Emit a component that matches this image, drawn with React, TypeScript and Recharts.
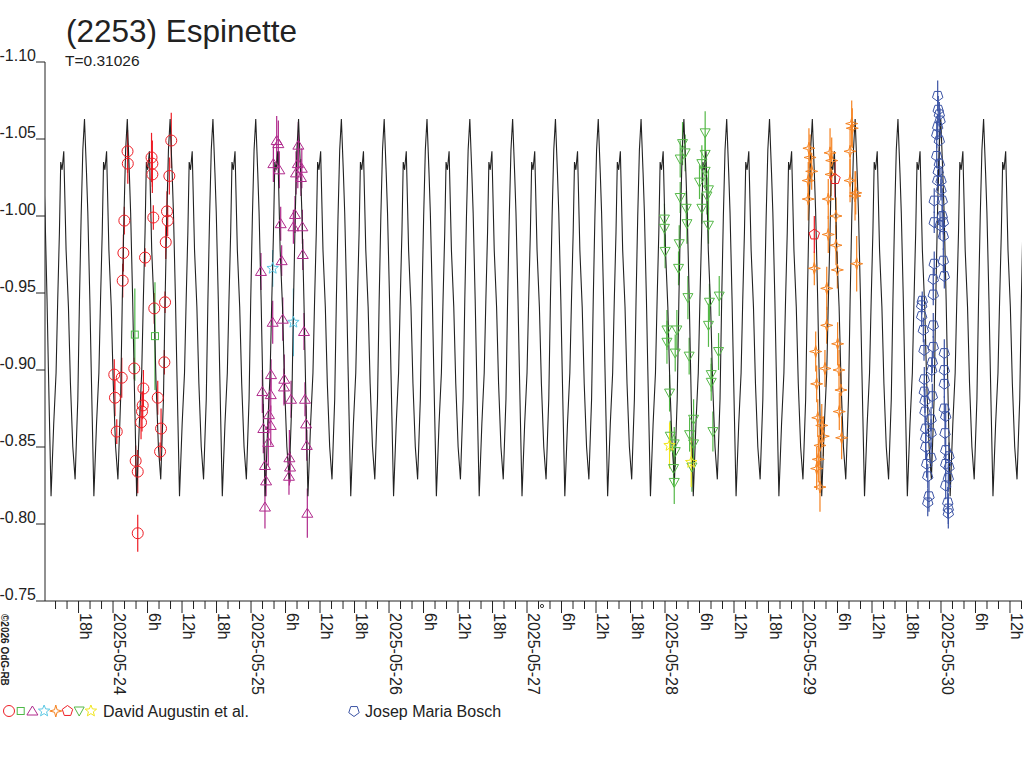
import React from 'react';
import { ComposedChart, Line, Scatter, XAxis, YAxis, ErrorBar } from 'recharts';

// synodic period (days) and time of a primary maximum (day of May 2025)
const PERIOD = 0.31026;
const EPOCH = 25.965;
const X_MIN = 23.507;
const X_MAX = 30.587;

// one rotation of the fitted lightcurve, phase vs magnitude
const PHASES = [0, 0.047, 0.078, 0.125, 0.156, 0.18, 0.219, 0.281, 0.336, 0.375, 0.414, 0.445, 0.477, 0.516, 0.57, 0.625, 0.672, 0.727, 0.781, 0.844, 0.883, 0.922, 0.961];
const PROFILE = [-1.063, -1.028, -1.002, -0.946, -0.902, -0.87, -0.818, -0.865, -0.898, -0.946, -0.989, -1.035, -1.03, -1.042, -0.978, -0.941, -0.891, -0.85, -0.829, -0.881, -0.946, -1.0, -1.043];

const Y_TICKS = [-1.1, -1.05, -1.0, -0.95, -0.9, -0.85, -0.8, -0.75];
// x ticks every 2 h, from 2025-05-23 14h to 2025-05-30 14h
const TICK_FIRST_H = 14;
const TICK_LAST_H = 182;
const TICK_STEP_H = 2;

// [day of May, magnitude, error]
const augustinCircles = [
  [24.009, -0.897, 0.01], [24.014, -0.882, 0.012], [24.027, -0.86, 0.008], [24.063, -0.895, 0.013],
  [24.07, -0.958, 0.011], [24.075, -0.976, 0.012], [24.082, -0.997, 0.009], [24.105, -1.042, 0.014],
  [24.107, -1.034, 0.013], [24.154, -0.901, 0.007], [24.164, -0.841, 0.01], [24.179, -0.834, 0.014],
  [24.179, -0.794, 0.012], [24.203, -0.866, 0.011], [24.21, -0.873, 0.013], [24.215, -0.877, 0.009],
  [24.22, -0.888, 0.012], [24.232, -0.973, 0.006], [24.279, -1.038, 0.016], [24.285, -1.034, 0.015],
  [24.285, -1.027, 0.012], [24.292, -0.999, 0.008], [24.299, -0.94, 0.01], [24.324, -0.882, 0.011],
  [24.341, -0.847, 0.006], [24.348, -0.862, 0.013], [24.372, -0.905, 0.008], [24.377, -0.944, 0.007],
  [24.382, -0.983, 0.011], [24.391, -1.003, 0.013], [24.396, -0.997, 0.01], [24.408, -1.026, 0.012],
  [24.422, -1.049, 0.018],
];
const augustinSquares = [[24.158, -0.923, 0.03], [24.304, -0.922, 0.035]];
const augustinTriangles = [
  [25.072, -0.964, 0.012], [25.082, -0.886, 0.014], [25.089, -0.862, 0.016], [25.101, -0.838, 0.012],
  [25.101, -0.811, 0.014], [25.109, -0.828, 0.01], [25.125, -0.853, 0.015], [25.13, -0.871, 0.012],
  [25.143, -0.884, 0.011], [25.143, -0.864, 0.013], [25.145, -0.897, 0.01], [25.157, -0.931, 0.014],
  [25.162, -1.034, 0.012], [25.186, -1.049, 0.016], [25.198, -1.047, 0.015], [25.205, -1.03, 0.012],
  [25.215, -0.995, 0.011], [25.222, -0.971, 0.01], [25.23, -0.933, 0.014], [25.239, -0.889, 0.012],
  [25.241, -0.894, 0.016], [25.275, -0.831, 0.012], [25.278, -0.843, 0.018], [25.283, -0.837, 0.01],
  [25.29, -0.881, 0.012], [25.307, -0.993, 0.011], [25.319, -1.001, 0.012], [25.326, -1.028, 0.014],
  [25.339, -1.034, 0.016], [25.343, -1.046, 0.015], [25.362, -1.025, 0.012], [25.368, -1.031, 0.013],
  [25.372, -0.993, 0.011], [25.375, -0.975, 0.01], [25.384, -0.925, 0.012], [25.391, -0.881, 0.011],
  [25.399, -0.865, 0.012], [25.404, -0.851, 0.01], [25.408, -0.807, 0.016],
];
const augustinStars = [[25.157, -0.966, 0.012], [25.307, -0.931, 0.022]];
const augustinDiamonds = [
  [29.038, -1.023, 0.012], [29.038, -1.011, 0.014], [29.043, -1.044, 0.013], [29.051, -1.038, 0.015],
  [29.063, -1.029, 0.012], [29.082, -0.966, 0.011], [29.092, -0.912, 0.013], [29.099, -0.891, 0.012],
  [29.099, -0.836, 0.014], [29.107, -0.869, 0.012], [29.111, -0.842, 0.015], [29.123, -0.851, 0.013],
  [29.123, -0.824, 0.016], [29.136, -0.864, 0.014], [29.147, -0.857, 0.013], [29.159, -0.901, 0.012],
  [29.172, -0.953, 0.014], [29.172, -0.929, 0.012], [29.183, -1.011, 0.013], [29.183, -0.988, 0.012],
  [29.196, -1.041, 0.016], [29.203, -1.027, 0.014], [29.208, -1.036, 0.015], [29.239, -1.0, 0.012],
  [29.239, -0.981, 0.013], [29.249, -0.965, 0.012], [29.251, -0.917, 0.014], [29.261, -0.9, 0.013],
  [29.263, -0.873, 0.012], [29.275, -0.887, 0.012], [29.28, -0.856, 0.014], [29.341, -1.042, 0.016],
  [29.341, -1.023, 0.014], [29.353, -1.06, 0.015], [29.357, -1.057, 0.013], [29.377, -1.013, 0.016],
  [29.382, -1.015, 0.014], [29.389, -0.969, 0.018],
];
const augustinPentagons = [[29.082, -0.988, 0.012], [29.232, -1.024, 0.012]];
const augustinDownTriangles = [
  [27.996, -0.998, 0.01], [27.996, -0.992, 0.012], [28.001, -0.977, 0.011], [28.014, -0.926, 0.013],
  [28.014, -0.918, 0.014], [28.033, -0.885, 0.012], [28.038, -0.857, 0.01], [28.062, -0.836, 0.012],
  [28.067, -0.852, 0.011], [28.067, -0.827, 0.014], [28.074, -0.911, 0.012], [28.074, -0.847, 0.01],
  [28.086, -0.926, 0.013], [28.098, -0.966, 0.011], [28.103, -0.982, 0.012], [28.11, -1.012, 0.01],
  [28.11, -1.037, 0.012], [28.127, -1.047, 0.014], [28.146, -1.041, 0.012], [28.154, -1.005, 0.011],
  [28.159, -0.995, 0.013], [28.166, -0.947, 0.014], [28.175, -0.909, 0.012], [28.178, -0.858, 0.011],
  [28.195, -0.837, 0.016], [28.207, -0.868, 0.013], [28.207, -0.852, 0.012], [28.25, -1.022, 0.011],
  [28.267, -1.034, 0.012], [28.267, -1.005, 0.01], [28.291, -1.054, 0.014], [28.291, -1.04, 0.012],
  [28.291, -1.029, 0.011], [28.304, -1.013, 0.012], [28.315, -1.017, 0.013], [28.315, -0.994, 0.012],
  [28.315, -0.929, 0.014], [28.322, -0.944, 0.012], [28.335, -0.897, 0.011], [28.335, -0.892, 0.012],
  [28.347, -0.86, 0.013], [28.388, -0.912, 0.012], [28.393, -0.948, 0.013],
];
const augustinYellowStars = [[28.033, -0.851, 0.015], [28.19, -0.84, 0.016]];
const boschPentagons = [
  [29.86, -0.942, 0.006], [29.86, -0.935, 0.007], [29.864, -0.945, 0.006], [29.872, -0.926, 0.008],
  [29.877, -0.913, 0.007], [29.879, -0.894, 0.008], [29.879, -0.886, 0.007], [29.884, -0.88, 0.008],
  [29.884, -0.873, 0.009], [29.889, -0.862, 0.008], [29.889, -0.856, 0.009], [29.889, -0.85, 0.008],
  [29.896, -0.839, 0.009], [29.904, -0.831, 0.008], [29.913, -0.818, 0.01], [29.904, -0.814, 0.009],
  [29.928, -0.868, 0.008], [29.928, -0.859, 0.009], [29.928, -0.843, 0.01], [29.933, -0.9, 0.008],
  [29.937, -0.905, 0.007], [29.937, -0.883, 0.008], [29.944, -0.959, 0.007], [29.944, -0.949, 0.007],
  [29.944, -0.929, 0.008], [29.944, -0.915, 0.007], [29.951, -1.01, 0.008], [29.951, -0.996, 0.007],
  [29.951, -0.969, 0.008], [29.969, -1.053, 0.009], [29.969, -1.039, 0.008], [29.976, -1.078, 0.01],
  [29.976, -1.058, 0.008], [29.976, -1.023, 0.007], [29.98, -1.069, 0.009], [29.98, -1.029, 0.008],
  [29.988, -1.066, 0.008], [29.988, -1.049, 0.007], [29.988, -1.034, 0.008], [29.993, -1.062, 0.008],
  [29.993, -0.994, 0.009], [30.0, -1.023, 0.008], [30.0, -1.017, 0.007], [30.009, -1.01, 0.008],
  [30.009, -1.0, 0.007], [30.017, -0.996, 0.008], [30.017, -0.987, 0.009], [30.017, -0.971, 0.008],
  [30.024, -0.961, 0.008], [30.024, -0.911, 0.009], [30.024, -0.9, 0.008], [30.024, -0.891, 0.009],
  [30.024, -0.875, 0.008], [30.029, -0.859, 0.009], [30.034, -0.87, 0.008], [30.034, -0.848, 0.009],
  [30.034, -0.839, 0.008], [30.034, -0.825, 0.009], [30.049, -0.814, 0.01], [30.053, -0.83, 0.009],
  [30.053, -0.81, 0.01], [30.053, -0.807, 0.01], [30.058, -0.844, 0.009], [30.058, -0.837, 0.009],
];

const INK = '#222';
const FONT = '"Liberation Sans", Arial, sans-serif';
const PLOT_TOP = 62;
const PLOT_H = 539;
const AXIS_Y = PLOT_TOP + PLOT_H;

type Kind = 'circle' | 'square' | 'triangle' | 'star' | 'diamond' | 'pentagon' | 'down' | 'hexa';

const SERIES: { name: string; kind: Kind; color: string; rows: number[][] }[] = [
  { name: 'c', kind: 'circle', color: '#ee1d25', rows: augustinCircles },
  { name: 's', kind: 'square', color: '#4db848', rows: augustinSquares },
  { name: 't', kind: 'triangle', color: '#b02a8c', rows: augustinTriangles },
  { name: 'st', kind: 'star', color: '#5cc8e4', rows: augustinStars },
  { name: 'd', kind: 'diamond', color: '#f58220', rows: augustinDiamonds },
  { name: 'p', kind: 'pentagon', color: '#ee1d25', rows: augustinPentagons },
  { name: 'v', kind: 'down', color: '#55b848', rows: augustinDownTriangles },
  { name: 'y', kind: 'star', color: '#f0e61c', rows: augustinYellowStars },
  { name: 'b', kind: 'hexa', color: '#3b53a4', rows: boschPentagons },
];

function polygon(cx: number, cy: number, n: number, r: number, rot: number) {
  const pts: string[] = [];
  for (let i = 0; i < n; i++) {
    const a = rot + (i * 2 * Math.PI) / n;
    pts.push(`${cx + r * Math.sin(a)},${cy - r * Math.cos(a)}`);
  }
  return pts.join(' ');
}

function starPoints(cx: number, cy: number, n: number, ro: number, ri: number) {
  const pts: string[] = [];
  for (let i = 0; i < n * 2; i++) {
    const a = (i * Math.PI) / n;
    const r = i % 2 === 0 ? ro : ri;
    pts.push(`${cx + r * Math.sin(a)},${cy - r * Math.cos(a)}`);
  }
  return pts.join(' ');
}

function Marker({ kind, cx, cy, color }: { kind: Kind; cx: number; cy: number; color: string }) {
  const common = { fill: 'none', stroke: color, strokeWidth: 1 };
  switch (kind) {
    case 'circle':
      return <circle cx={cx} cy={cy} r={5.5} {...common} />;
    case 'square':
      return <rect x={cx - 3.5} y={cy - 3.5} width={7} height={7} {...common} />;
    case 'triangle':
      return <polygon points={`${cx},${cy - 5} ${cx + 5.5},${cy + 4} ${cx - 5.5},${cy + 4}`} {...common} />;
    case 'down':
      return <polygon points={`${cx - 5},${cy - 4} ${cx + 5},${cy - 4} ${cx},${cy + 5}`} {...common} />;
    case 'star':
      return <polygon points={starPoints(cx, cy, 5, 6, 2.6)} {...common} />;
    case 'diamond':
      return <polygon points={starPoints(cx, cy, 4, 6, 1.8)} {...common} />;
    case 'pentagon':
      return <polygon points={polygon(cx, cy, 5, 5.5, 0)} {...common} />;
    case 'hexa':
      return <polygon points={polygon(cx, cy, 5, 5.5, Math.PI)} {...common} />;
  }
  return null;
}

const modelData: { t: number; m: number }[] = [];
for (let k = Math.floor((X_MIN - EPOCH) / PERIOD) - 1; k <= Math.ceil((X_MAX - EPOCH) / PERIOD); k++) {
  PHASES.forEach((p, i) => {
    const t = EPOCH + (k + p) * PERIOD;
    if (t >= X_MIN - PERIOD / 6 && t <= X_MAX + PERIOD / 6) modelData.push({ t, m: PROFILE[i] });
  });
}

const xTicks: number[] = [];
for (let h = TICK_FIRST_H; h <= TICK_LAST_H; h += TICK_STEP_H) xTicks.push(23 + h / 24);

function XTick({ x, payload }: any) {
  const h = Math.round((payload.value - 23) * 24);
  const major = h % 6 === 0;
  const hod = h % 24;
  let label = '';
  if (major) label = hod === 0 ? `2025-05-${23 + h / 24}` : `${hod}h`;
  return (
    <g>
      <line x1={x} y1={AXIS_Y} x2={x} y2={AXIS_Y + (major ? 12 : 8)} stroke={INK} />
      {label && (
        <text transform={`translate(${x + 1},${AXIS_Y + 12}) rotate(90)`} fontSize={16} fill={INK} fontFamily={FONT}>
          {label}
        </text>
      )}
    </g>
  );
}

function YTick({ y, payload }: any) {
  return (
    <g>
      <line x1={36} y1={y} x2={45} y2={y} stroke={INK} />
      <text x={36} y={y - 1} textAnchor="end" fontSize={16} fill={INK} fontFamily={FONT}>
        {payload.value.toFixed(2)}
      </text>
    </g>
  );
}

const LEGEND_A: { kind: Kind; color: string }[] = SERIES.filter((s) => s.name !== 'b').map((s) => ({ kind: s.kind, color: s.color }));

export default function App() {
  return (
    <div style={{ position: 'absolute', left: 0, top: 0, width: 1024, height: 768, background: '#fff', fontFamily: FONT }}>
      <ComposedChart width={1024} height={768} margin={{ top: PLOT_TOP, right: 2, bottom: 0, left: 0 }}>
        <XAxis
          type="number"
          dataKey="t"
          domain={[X_MIN, X_MAX]}
          allowDataOverflow
          ticks={xTicks}
          interval={0}
          height={768 - AXIS_Y}
          axisLine={{ stroke: INK }}
          tickLine={false}
          tick={<XTick />}
        />
        <YAxis
          type="number"
          domain={[-1.1, -0.75]}
          reversed
          allowDataOverflow
          ticks={Y_TICKS}
          interval={0}
          width={45}
          axisLine={{ stroke: INK }}
          tickLine={false}
          tick={<YTick />}
        />
        {SERIES.map((s) => (
          <Scatter
            key={s.name}
            data={s.rows.map(([t, m, e]) => ({ t, m, e }))}
            dataKey="m"
            isAnimationActive={false}
            shape={(p: any) => <Marker kind={s.kind} cx={p.cx} cy={p.cy} color={s.color} />}
          >
            <ErrorBar dataKey="e" direction="y" width={0} stroke={s.color} strokeWidth={1.2} />
          </Scatter>
        ))}
        <Line
          data={modelData}
          dataKey="m"
          type="linear"
          dot={false}
          activeDot={false}
          stroke={INK}
          strokeWidth={1.1}
          isAnimationActive={false}
        />
      </ComposedChart>
      <svg width={1024} height={768} style={{ position: 'absolute', left: 0, top: 0, pointerEvents: 'none' }}>
        <text x={66} y={42} fontSize={31.5} fill={INK} fontFamily={FONT}>(2253) Espinette</text>
        <text x={65} y={66} fontSize={15.5} fill={INK} fontFamily={FONT}>T=0.31026</text>
        <text transform="translate(1,614) rotate(90)" fontSize={10} fontWeight="bold" fill={INK} fontFamily={FONT}>
          ©2026 OdG-RB
        </text>
        <circle cx={542} cy={606} r={1.6} fill="none" stroke={INK} strokeWidth={0.9} />
        {LEGEND_A.map((l, i) => (
          <Marker key={i} kind={l.kind} cx={9 + i * 11.7} cy={711} color={l.color} />
        ))}
        <text x={103} y={717} fontSize={16} fill={INK} fontFamily={FONT}>David Augustin et al.</text>
        <Marker kind="hexa" cx={354} cy={711} color="#3b53a4" />
        <text x={365} y={717} fontSize={16} fill={INK} fontFamily={FONT}>Josep Maria Bosch</text>
      </svg>
    </div>
  );
}
